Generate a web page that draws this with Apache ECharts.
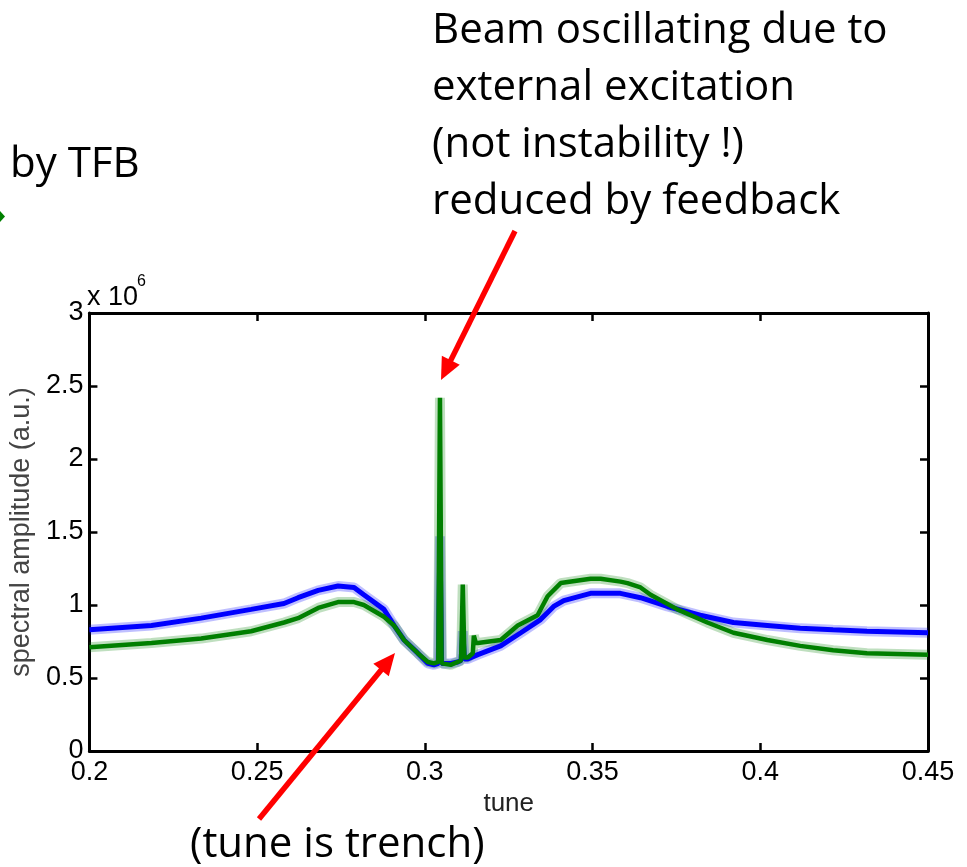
<!DOCTYPE html>
<html>
<head>
<meta charset="utf-8">
<script src="https://cdn.jsdelivr.net/npm/echarts@6/dist/echarts.min.js"></script>
<style>
html, body { margin: 0; padding: 0; background: #fff; }
#chart { width: 967px; height: 867px; }
</style>
</head>
<body>
<div id="chart"></div>
<script>
// spectral amplitude (x 10^6) vs tune
const blueTune = [0.2, 0.2185, 0.2333, 0.2482, 0.258, 0.2622, 0.2682, 0.2741, 0.2789, 0.2818,
  0.2878, 0.2908, 0.2938, 0.2979, 0.3009, 0.3027, 0.304, 0.3045, 0.305, 0.3077, 0.3098,
  0.3108, 0.3113, 0.3118, 0.3128, 0.3158, 0.3226, 0.3286, 0.3345, 0.3384, 0.3414, 0.3494,
  0.3583, 0.3643, 0.3723, 0.3821, 0.392, 0.4021, 0.4119, 0.4217, 0.4318, 0.45];
const blueAmp = [0.83, 0.86, 0.91, 0.97, 1.01, 1.05, 1.10, 1.13, 1.12, 1.07,
  0.97, 0.86, 0.76, 0.67, 0.60, 0.59, 0.60, 1.47, 0.60, 0.60, 0.61,
  0.62, 0.82, 0.63, 0.63, 0.66, 0.72, 0.81, 0.90, 0.99, 1.03, 1.08,
  1.08, 1.05, 0.99, 0.93, 0.88, 0.86, 0.84, 0.83, 0.82, 0.81];

const greenTune = [0.2, 0.2185, 0.2333, 0.2482, 0.258, 0.2622, 0.2682, 0.2741, 0.2789, 0.2818,
  0.2878, 0.2908, 0.2938, 0.2979, 0.3009, 0.3027, 0.304, 0.3045, 0.305, 0.3077, 0.3098,
  0.3108, 0.3113, 0.3118, 0.3128, 0.3143, 0.3146, 0.3152, 0.3158, 0.3226, 0.3277, 0.3336,
  0.3366, 0.3405, 0.3494, 0.3524, 0.3583, 0.3604, 0.3643, 0.3673, 0.3753, 0.3842, 0.392,
  0.4021, 0.4119, 0.4217, 0.4318, 0.45];
const greenAmp = [0.71, 0.74, 0.77, 0.82, 0.88, 0.91, 0.98, 1.02, 1.02, 1.00,
  0.92, 0.86, 0.76, 0.67, 0.61, 0.60, 0.61, 2.42, 0.60, 0.59, 0.61,
  0.62, 1.14, 0.64, 0.64, 0.67, 0.79, 0.74, 0.74, 0.76, 0.86, 0.93,
  1.06, 1.15, 1.18, 1.18, 1.16, 1.15, 1.12, 1.07, 0.97, 0.88, 0.81,
  0.76, 0.72, 0.69, 0.67, 0.66];

const xMin = 0.2, xMax = 0.45, xStep = 0.05;
const yMin = 0, yMax = 3, yStep = 0.5;

const noteTop = ['Beam oscillating due to', 'external excitation', '(not instability !)', 'reduced by feedback'];
const noteLeft = 'by TFB';
const noteBottom = '(tune is trench)';

const chart = echarts.init(document.getElementById('chart'));

const bluePts = blueTune.map((t, i) => [t, blueAmp[i]]);
const greenPts = greenTune.map((t, i) => [t, greenAmp[i]]);

function line(data, color, width, z) {
  return {
    type: 'line', data: data, symbol: 'none', showSymbol: false, silent: true,
    lineStyle: { color: color, width: width }, z: z
  };
}

function arrow(x1, y1, x2, y2) {
  const dx = x2 - x1, dy = y2 - y1, len = Math.sqrt(dx * dx + dy * dy);
  const ux = dx / len, uy = dy / len;
  const bx = x2 - 22 * ux, by = y2 - 22 * uy;
  return [
    { type: 'line', shape: { x1: x1, y1: y1, x2: bx + 4 * ux, y2: by + 4 * uy },
      style: { stroke: '#ff0000', lineWidth: 5.5 }, z: 100 },
    { type: 'polygon', shape: { points: [[x2, y2], [bx - 10 * uy, by + 10 * ux], [bx + 10 * uy, by - 10 * ux]] },
      style: { fill: '#ff0000' }, z: 100 }
  ];
}

const tickFmt = v => String(parseFloat(v.toFixed(2)));
const axisFont = 'Liberation Sans, Arial, sans-serif';
const noteFont = '42px "Open Sans", sans-serif';

function xAx(pos, labels) {
  return {
    type: 'value', position: pos, min: xMin, max: xMax, interval: xStep,
    axisLine: { show: true, onZero: false, lineStyle: { color: '#000', width: 3 } },
    axisTick: { show: true, inside: true, length: 8, lineStyle: { color: '#000', width: 2.5 } },
    axisLabel: { show: labels, formatter: tickFmt, fontFamily: axisFont, fontSize: 27, color: '#000', margin: 8,
      showMinLabel: true, showMaxLabel: true },
    splitLine: { show: false }
  };
}
function yAx(pos, labels) {
  return {
    type: 'value', position: pos, min: yMin, max: yMax, interval: yStep,
    axisLine: { show: true, onZero: false, lineStyle: { color: '#000', width: 3 } },
    axisTick: { show: true, inside: true, length: 8, lineStyle: { color: '#000', width: 2.5 } },
    axisLabel: { show: labels, formatter: tickFmt, fontFamily: axisFont, fontSize: 27, color: '#000', margin: 6,
      showMinLabel: true, showMaxLabel: true },
    splitLine: { show: false }
  };
}

const xBottom = xAx('bottom', true);
xBottom.name = 'tune';
xBottom.nameLocation = 'middle';
xBottom.nameGap = 27;
xBottom.nameTextStyle = { fontFamily: axisFont, fontSize: 26, color: '#222' };

const yLeft = yAx('left', true);
yLeft.name = 'spectral amplitude (a.u.)';
yLeft.nameLocation = 'middle';
yLeft.nameGap = 42;
yLeft.nameTextStyle = { fontFamily: axisFont, fontSize: 27, color: '#444' };

const option = {
  animation: false,
  backgroundColor: '#fff',
  grid: { left: 88, top: 313, right: 39, bottom: 116 },
  xAxis: [xBottom, xAx('top', false)],
  yAxis: [yLeft, yAx('right', false)],
  series: [
    line(bluePts, 'rgba(0,0,255,0.25)', 10, 1),
    line(greenPts, 'rgba(0,128,0,0.25)', 10, 2),
    line(bluePts, '#0000ff', 5, 3),
    line(greenPts, '#007f00', 4.5, 4)
  ],
  graphic: [
    { type: 'text', x: 87, y: 298, style: { text: 'x 10', font: '27px ' + axisFont, fill: '#000', verticalAlign: 'middle' } },
    { type: 'text', x: 137, y: 282, style: { text: '6', font: '16px ' + axisFont, fill: '#000', verticalAlign: 'middle' } },
    { type: 'text', x: 432, y: 3, style: { text: noteTop.join('\n'), font: noteFont, lineHeight: 57, fill: '#000', verticalAlign: 'top' } },
    { type: 'text', x: 10, y: 165, style: { text: noteLeft, font: noteFont, fill: '#000', verticalAlign: 'middle' } },
    { type: 'text', x: 190, y: 845, style: { text: noteBottom, font: noteFont, fill: '#000', verticalAlign: 'middle' } },
    { type: 'polygon', shape: { points: [[0, 211], [5, 216.5], [0, 222]] }, style: { fill: '#008000' } }
  ].concat(arrow(515, 231, 441, 380), arrow(259, 819, 395, 653))
};

chart.setOption(option);
</script>
</body>
</html>
